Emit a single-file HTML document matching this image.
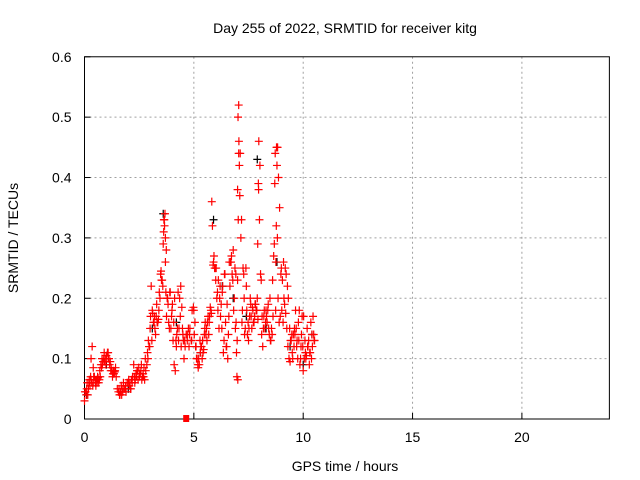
<!DOCTYPE html>
<html><head><meta charset="utf-8"><style>
body{margin:0;background:#fff;}
svg{display:block;font-family:"Liberation Sans",sans-serif;}
</style></head><body>
<svg id="chart" width="640" height="480">
<text x="345" y="33" font-size="14" text-anchor="middle">Day 255 of 2022, SRMTID for receiver kitg</text>
<text x="345" y="471" font-size="14" text-anchor="middle">GPS time / hours</text>
<text x="18" y="238" font-size="14" text-anchor="middle" transform="rotate(-90 18 238)">SRMTID / TECUs</text>
<g id="grid"></g><g id="axes"></g><g id="marks"></g>
</svg>
<script>
const xTicks=[0,5,10,15,20];
const yTicks=[0,0.1,0.2,0.3,0.4,0.5,0.6];
const yTickLabels=["0","0.1","0.2","0.3","0.4","0.5","0.6"];
const blackTimes=[0.1,0.5,1.0,2.0,3.1,3.6,4.2,5.3,5.9,6.3,6.8,7.4,7.9,8.3,8.8,9.4,10.0,10.4];
const blackValues=[0.04,0.06,0.09,0.05,0.15,0.34,0.16,0.11,0.33,0.22,0.2,0.17,0.43,0.15,0.26,0.12,0.09,0.14];
const redTimes=[0.0,0.05,0.1,0.15,0.2,0.25,0.3,0.3,0.35,0.4,0.4,0.45,0.5,0.55,0.6,0.65,0.7,0.75,0.8,0.85,0.9,0.95,1.0,1.05,1.1,1.15,1.2,1.25,1.3,1.35,1.4,1.45,1.5,1.6,1.65,1.7,1.8,1.9,2.0,2.1,2.2,2.25,2.3,2.4,2.5,2.6,2.7,2.75,2.8,2.9,2.95,3.0,3.05,3.1,3.15,3.2,3.25,3.3,3.35,3.4,3.45,3.5,3.55,3.6,3.62,3.65,3.68,3.7,3.72,3.75,3.8,3.85,3.9,3.95,4.0,4.05,4.1,4.15,4.2,4.25,4.3,4.35,4.4,4.45,4.5,4.55,4.6,4.65,4.7,4.75,4.8,4.9,5.0,5.05,5.1,5.15,5.2,5.25,5.3,5.35,5.4,5.45,5.5,5.55,5.6,5.65,5.7,5.75,5.8,5.82,5.85,5.9,5.95,6.0,6.05,6.1,6.15,6.2,6.25,6.3,6.35,6.4,6.45,6.5,6.55,6.6,6.65,6.7,6.75,6.8,6.85,6.9,6.92,6.95,6.97,7.0,7.0,7.02,7.05,7.05,7.08,7.1,7.15,7.2,7.25,7.3,7.35,7.4,7.45,7.5,7.55,7.6,7.65,7.7,7.75,7.8,7.85,7.9,7.92,7.95,7.97,8.0,8.05,8.1,8.15,8.2,8.25,8.3,8.35,8.4,8.45,8.5,8.55,8.6,8.65,8.7,8.72,8.75,8.78,8.8,8.82,8.85,8.9,8.95,9.0,9.05,9.1,9.15,9.2,9.25,9.3,9.35,9.4,9.45,9.5,9.55,9.6,9.65,9.7,9.75,9.8,9.85,9.9,9.95,10.0,10.05,10.1,10.15,10.2,10.25,10.3,10.35,10.4,10.45,10.5];
const redValues=[0.03,0.045,0.05,0.04,0.06,0.055,0.1,0.065,0.12,0.06,0.085,0.07,0.06,0.065,0.07,0.06,0.08,0.09,0.1,0.095,0.11,0.1,0.105,0.11,0.1,0.09,0.08,0.08,0.075,0.075,0.08,0.07,0.05,0.04,0.045,0.04,0.05,0.045,0.06,0.05,0.07,0.09,0.06,0.08,0.075,0.09,0.07,0.065,0.08,0.1,0.12,0.15,0.22,0.18,0.16,0.17,0.14,0.19,0.16,0.18,0.2,0.245,0.23,0.29,0.31,0.33,0.34,0.26,0.21,0.17,0.2,0.16,0.21,0.15,0.18,0.13,0.09,0.08,0.12,0.15,0.13,0.2,0.22,0.185,0.14,0.1,0.12,0.14,0.13,0.15,0.14,0.13,0.18,0.16,0.12,0.1,0.085,0.09,0.11,0.12,0.13,0.115,0.15,0.14,0.13,0.17,0.16,0.185,0.175,0.36,0.32,0.26,0.25,0.23,0.2,0.18,0.15,0.22,0.19,0.21,0.11,0.24,0.16,0.12,0.1,0.17,0.22,0.26,0.24,0.28,0.2,0.15,0.24,0.11,0.07,0.23,0.38,0.5,0.52,0.44,0.42,0.37,0.3,0.16,0.25,0.2,0.15,0.22,0.14,0.13,0.17,0.19,0.15,0.18,0.16,0.19,0.18,0.2,0.29,0.39,0.46,0.33,0.24,0.14,0.12,0.17,0.15,0.18,0.16,0.19,0.14,0.13,0.15,0.23,0.27,0.39,0.44,0.26,0.45,0.42,0.3,0.2,0.16,0.17,0.25,0.23,0.26,0.19,0.175,0.15,0.12,0.1,0.095,0.13,0.11,0.14,0.15,0.18,0.12,0.1,0.13,0.09,0.12,0.17,0.08,0.1,0.11,0.105,0.12,0.13,0.11,0.16,0.14,0.17,0.13];
const extraTimes=[0.02,0.08,0.12,0.18,0.22,0.28,0.33,0.38,0.42,0.48,0.52,0.58,0.62,0.68,0.72,0.78,0.82,0.88,0.92,0.98,1.02,1.08,1.12,1.18,1.22,1.28,1.32,1.38,1.42,1.55,1.58,1.62,1.68,1.72,1.75,1.78,1.85,1.88,1.95,2.02,2.05,2.08,2.12,2.15,2.18,2.28,2.32,2.35,2.38,2.42,2.45,2.48,2.52,2.55,2.58,2.62,2.65,2.68,2.72,2.78,2.85,2.88,2.92,2.98,3.02,3.08,3.12,3.18,3.22,3.28,3.32,3.38,3.42,3.48,3.52,3.58,3.63,3.66,3.7,3.74,3.78,3.82,3.88,3.92,3.98,4.02,4.08,4.12,4.18,4.22,4.28,4.32,4.38,4.42,4.48,4.52,4.58,4.7,4.78,4.82,4.88,4.92,4.98,5.02,5.08,5.12,5.18,5.22,5.28,5.32,5.38,5.42,5.48,5.52,5.58,5.62,5.68,5.72,5.78,5.88,5.92,5.98,6.02,6.08,6.12,6.18,6.22,6.28,6.32,6.38,6.42,6.48,6.52,6.58,6.62,6.68,6.72,6.78,6.82,6.88,6.93,6.98,7.01,7.03,7.06,7.12,7.18,7.22,7.28,7.32,7.38,7.42,7.48,7.52,7.58,7.62,7.68,7.72,7.78,7.82,7.88,7.93,7.96,8.02,8.08,8.12,8.18,8.22,8.28,8.32,8.38,8.42,8.48,8.52,8.58,8.62,8.68,8.74,8.77,8.8,8.83,8.87,8.92,8.98,9.02,9.08,9.12,9.18,9.22,9.28,9.32,9.38,9.42,9.48,9.52,9.58,9.62,9.68,9.72,9.78,9.82,9.88,9.92,9.98,10.02,10.08,10.12,10.18,10.22,10.28,10.32,10.38,10.42,10.48,10.52];
const extraValues=[0.045,0.04,0.06,0.05,0.065,0.07,0.06,0.055,0.07,0.065,0.055,0.06,0.068,0.065,0.07,0.085,0.09,0.1,0.095,0.09,0.1,0.11,0.1,0.095,0.085,0.07,0.08,0.078,0.085,0.045,0.05,0.04,0.055,0.05,0.045,0.06,0.05,0.055,0.06,0.065,0.055,0.06,0.05,0.065,0.06,0.07,0.065,0.075,0.07,0.08,0.065,0.085,0.07,0.075,0.08,0.065,0.07,0.075,0.085,0.1,0.09,0.11,0.13,0.12,0.17,0.13,0.175,0.16,0.15,0.17,0.16,0.165,0.21,0.24,0.23,0.22,0.33,0.32,0.3,0.28,0.2,0.19,0.15,0.21,0.17,0.19,0.16,0.2,0.13,0.14,0.21,0.15,0.17,0.12,0.15,0.13,0.13,0.14,0.12,0.15,0.13,0.18,0.185,0.14,0.12,0.1,0.09,0.1,0.13,0.12,0.1,0.11,0.14,0.16,0.15,0.16,0.14,0.17,0.18,0.255,0.27,0.25,0.25,0.21,0.23,0.2,0.17,0.15,0.22,0.13,0.24,0.12,0.19,0.14,0.26,0.26,0.27,0.23,0.18,0.25,0.16,0.13,0.065,0.33,0.46,0.44,0.33,0.18,0.24,0.14,0.25,0.18,0.16,0.15,0.2,0.17,0.185,0.16,0.17,0.19,0.18,0.165,0.38,0.42,0.23,0.17,0.15,0.18,0.16,0.17,0.18,0.15,0.2,0.13,0.14,0.17,0.29,0.18,0.32,0.45,0.45,0.4,0.35,0.24,0.18,0.16,0.2,0.25,0.24,0.22,0.2,0.15,0.13,0.14,0.1,0.12,0.14,0.15,0.13,0.16,0.18,0.1,0.14,0.12,0.17,0.13,0.1,0.15,0.12,0.09,0.11,0.1,0.12,0.14,0.13,0.15,0.14,0.16,0.15];
const squareTimes=[4.65];
const squareValues=[0.0];
const X0=84.5,XPX=21.87,Y0=419,YPX=603.7;
function sx(t){return X0+t*XPX;}
function sy(v){return Y0-v*YPX;}
const NS="http://www.w3.org/2000/svg";
const grid=document.getElementById('grid'),axes=document.getElementById('axes'),marks=document.getElementById('marks');
function mk(tag,attrs,parent){const e=document.createElementNS(NS,tag);for(const k in attrs)e.setAttribute(k,attrs[k]);parent.appendChild(e);return e;}
const R=sx(24),T=sy(0.6);
yTicks.forEach((v,i)=>{
  if(i>0&&i<yTicks.length-1){const g=mk('line',{x1:X0,x2:R,y1:sy(v),y2:sy(v),stroke:'#a0a0a0','stroke-dasharray':'2,3'},grid);
  
  }
  const t=mk('text',{x:X0-13,y:sy(v)+5,'font-size':14,'text-anchor':'end'},axes);t.textContent=yTickLabels[i];
  
  
  mk('line',{x1:X0,x2:X0+6,y1:sy(v),y2:sy(v),stroke:'#000'},axes);
});
xTicks.forEach(v=>{
  if(v>0){const g=mk('line',{x1:sx(v),x2:sx(v),y1:T,y2:Y0,stroke:'#a0a0a0','stroke-dasharray':'2,3'},grid);
  
  }
  const t=mk('text',{x:sx(v),y:Y0+23,'font-size':14,'text-anchor':'middle'},axes);t.textContent=String(v);
  
  
  mk('line',{x1:sx(v),x2:sx(v),y1:Y0,y2:Y0-6,stroke:'#000'},axes);
});
const frame=mk('rect',{x:X0,y:T,width:R-X0,height:Y0-T,fill:'none',stroke:'#000'},axes);


function plus(t,v,color,name){
  const x=sx(t),y=sy(v);
  const p=mk('path',{d:`M${x-4} ${y}H${x+4}M${x} ${y-4}V${y+4}`,stroke:color,'stroke-width':1.2,fill:'none'},marks);
  
  
}
blackTimes.forEach((t,i)=>plus(t,blackValues[i],'#000','black-point'));
redTimes.forEach((t,i)=>plus(t,redValues[i],'#f00','red-point'));
extraTimes.forEach((t,i)=>plus(t,extraValues[i],'#f00','red-point'));
squareTimes.forEach((t,i)=>{
  const s=mk('rect',{x:sx(t)-3,y:sy(squareValues[i])-4,width:6,height:7,fill:'#f00'},marks);
  
  
});
</script>
</body></html>
